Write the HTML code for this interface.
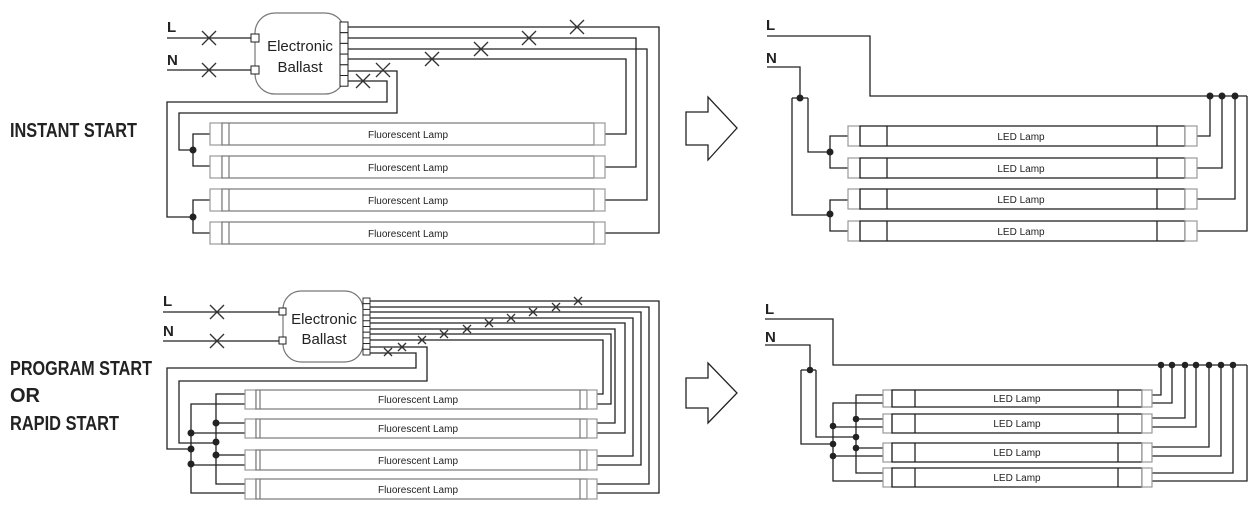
<!DOCTYPE html>
<html><head><meta charset="utf-8"><style>
html,body{margin:0;padding:0;background:#fff;width:1257px;height:510px;overflow:hidden}
svg{display:block}
.w{fill:none;stroke:#222;stroke-width:1.3}
.c{fill:#fff;stroke:#999;stroke-width:1.2}
.t{fill:#fff;stroke:#777;stroke-width:1.2}
.x{stroke:#333;stroke-width:1.3}
.lt{font-family:"Liberation Sans Narrow","Liberation Sans",sans-serif;font-size:10px;fill:#222;text-anchor:middle}
.hd{font-family:"Liberation Sans Narrow","Liberation Sans",sans-serif;font-weight:bold;font-size:20px;fill:#222}
.lb{font-family:"Liberation Sans",sans-serif;font-weight:bold;font-size:15px;fill:#222}
.bl{font-family:"Liberation Sans Narrow","Liberation Sans",sans-serif;font-size:15px;fill:#222;text-anchor:middle}
</style></head><body>
<svg width="1257" height="510" viewBox="0 0 1257 510" xmlns="http://www.w3.org/2000/svg">
<defs>
<g id="xm"><line class="x" x1="-7" y1="-7" x2="7" y2="7"/><line class="x" x1="-7" y1="7" x2="7" y2="-7"/></g>
<g id="xs"><line class="x" x1="-4" y1="-4" x2="4" y2="4"/><line class="x" x1="-4" y1="4" x2="4" y2="-4"/></g>
</defs>

<!-- headings -->
<text class="hd" x="10" y="137" textLength="127" lengthAdjust="spacingAndGlyphs">INSTANT START</text>
<text class="hd" x="10" y="375" textLength="142" lengthAdjust="spacingAndGlyphs">PROGRAM START</text>
<text class="hd" x="10" y="402">OR</text>
<text class="hd" x="10" y="430" textLength="109" lengthAdjust="spacingAndGlyphs">RAPID START</text>

<!-- arrows -->
<path class="w" d="M686,112 H708 V97 L737,128 L708,160 V145 H686 Z"/>
<path class="w" d="M686,378 H708 V363 L737,393 L708,423 V408 H686 Z"/>

<!-- ===== TOP LEFT ===== -->
<text class="lb" x="167" y="32">L</text>
<text class="lb" x="167" y="65">N</text>
<path class="w" d="M167,38 H253 M167,70 H253"/>
<use href="#xm" x="209" y="38"/><use href="#xm" x="209" y="70"/>
<rect x="255" y="13" width="90" height="81" rx="20" fill="#fff" stroke="#777" stroke-width="1.2"/>
<rect x="251" y="34" width="8" height="8" fill="#fff" stroke="#222"/>
<rect x="251" y="66" width="8" height="8" fill="#fff" stroke="#222"/>
<text class="bl" x="300" y="51">Electronic</text>
<text class="bl" x="300" y="72">Ballast</text>
<g fill="#fff" stroke="#222" stroke-width="1">
<rect x="340" y="22" width="8" height="10.7"/><rect x="340" y="32.7" width="8" height="10.7"/><rect x="340" y="43.4" width="8" height="10.7"/><rect x="340" y="54.1" width="8" height="10.7"/><rect x="340" y="64.8" width="8" height="10.7"/><rect x="340" y="75.5" width="8" height="10.7"/>
</g>
<path class="w" d="M348,27 H659 V233 H605 M348,38 H636 V167 H605 M348,49 H647 V200 H605 M348,59 H626 V134 H605"/>
<path class="w" d="M348,71 H397 V113 H179 V150 H193 M348,81 H387 V102 H167 V217 H193"/>
<path class="w" d="M210,134 H193 V166 H210 M210,200 H193 V233 H210"/>
<circle cx="193" cy="150" r="3.5" fill="#222"/><circle cx="193" cy="217" r="3.5" fill="#222"/>
<use href="#xm" x="577" y="27"/><use href="#xm" x="529" y="38"/><use href="#xm" x="481" y="49"/><use href="#xm" x="432" y="59"/><use href="#xm" x="383" y="70"/><use href="#xm" x="363" y="81"/>
<g>
<rect class="c" x="210" y="123" width="12" height="22"/><rect class="t" x="222" y="123" width="372" height="22"/><line class="t" x1="229" y1="123" x2="229" y2="145"/><rect class="c" x="594" y="123" width="11" height="22"/><text class="lt" x="408" y="138">Fluorescent Lamp</text>
<rect class="c" x="210" y="156" width="12" height="22"/><rect class="t" x="222" y="156" width="372" height="22"/><line class="t" x1="229" y1="156" x2="229" y2="178"/><rect class="c" x="594" y="156" width="11" height="22"/><text class="lt" x="408" y="171">Fluorescent Lamp</text>
<rect class="c" x="210" y="189" width="12" height="22"/><rect class="t" x="222" y="189" width="372" height="22"/><line class="t" x1="229" y1="189" x2="229" y2="211"/><rect class="c" x="594" y="189" width="11" height="22"/><text class="lt" x="408" y="204">Fluorescent Lamp</text>
<rect class="c" x="210" y="222" width="12" height="22"/><rect class="t" x="222" y="222" width="372" height="22"/><line class="t" x1="229" y1="222" x2="229" y2="244"/><rect class="c" x="594" y="222" width="11" height="22"/><text class="lt" x="408" y="237">Fluorescent Lamp</text>
</g>

<!-- ===== TOP RIGHT ===== -->
<text class="lb" x="766" y="30">L</text>
<text class="lb" x="766" y="63">N</text>
<path class="w" d="M767,36 H870 V96 H1247 M767,67 H800 V98 M792,98 H808 M792,98 V215 H830 M808,98 V152 H830"/>
<path class="w" d="M848,136 H830 V168 H848 M848,200 H830 V231 H848"/>
<path class="w" d="M1197,136 H1210 V96 M1197,168 H1222 V96 M1197,199 H1235 V96 M1197,231 H1247 V96"/>
<g fill="#222"><circle cx="800" cy="98" r="3.5"/><circle cx="830" cy="152" r="3.5"/><circle cx="830" cy="214" r="3.5"/><circle cx="1210" cy="96" r="3.5"/><circle cx="1222" cy="96" r="3.5"/><circle cx="1235" cy="96" r="3.5"/></g>
<g>
<rect class="c" x="848" y="126" width="12" height="20"/><rect class="w" x="860" y="126" width="325" height="20"/><path class="w" d="M887,126V146M1157,126V146"/><rect class="c" x="1185" y="126" width="12" height="20"/><text class="lt" x="1021" y="140">LED Lamp</text>
<rect class="c" x="848" y="158" width="12" height="20"/><rect class="w" x="860" y="158" width="325" height="20"/><path class="w" d="M887,158V178M1157,158V178"/><rect class="c" x="1185" y="158" width="12" height="20"/><text class="lt" x="1021" y="172">LED Lamp</text>
<rect class="c" x="848" y="189" width="12" height="20"/><rect class="w" x="860" y="189" width="325" height="20"/><path class="w" d="M887,189V209M1157,189V209"/><rect class="c" x="1185" y="189" width="12" height="20"/><text class="lt" x="1021" y="203">LED Lamp</text>
<rect class="c" x="848" y="221" width="12" height="20"/><rect class="w" x="860" y="221" width="325" height="20"/><path class="w" d="M887,221V241M1157,221V241"/><rect class="c" x="1185" y="221" width="12" height="20"/><text class="lt" x="1021" y="235">LED Lamp</text>
</g>

<!-- ===== BOTTOM LEFT ===== -->
<text class="lb" x="163" y="306">L</text>
<text class="lb" x="163" y="336">N</text>
<path class="w" d="M163,312 H281 M163,341 H281"/>
<use href="#xm" x="217" y="312"/><use href="#xm" x="217" y="341"/>
<rect x="283" y="291" width="80" height="71" rx="18" fill="#fff" stroke="#777" stroke-width="1.2"/>
<rect x="279" y="308" width="7" height="7" fill="#fff" stroke="#222"/>
<rect x="279" y="337" width="7" height="7" fill="#fff" stroke="#222"/>
<text class="bl" x="324" y="324">Electronic</text>
<text class="bl" x="324" y="344">Ballast</text>
<g fill="#fff" stroke="#222" stroke-width="0.9">
<rect x="363" y="298" width="7" height="5.7"/><rect x="363" y="303.7" width="7" height="5.7"/><rect x="363" y="309.4" width="7" height="5.7"/><rect x="363" y="315.1" width="7" height="5.7"/><rect x="363" y="320.8" width="7" height="5.7"/><rect x="363" y="326.5" width="7" height="5.7"/><rect x="363" y="332.2" width="7" height="5.7"/><rect x="363" y="337.9" width="7" height="5.7"/><rect x="363" y="343.6" width="7" height="5.7"/><rect x="363" y="349.3" width="7" height="5.7"/>
</g>
<path class="w" d="M370,301 H659 V493 H597 M370,307 H649 V484 H597 M370,312 H641 V465 H597 M370,318 H633 V456 H597 M370,323 H625 V433 H597 M370,329 H615 V423 H597 M370,334 H611 V404 H597 M370,340 H603 V394 H597"/>
<path class="w" d="M370,347 H427 V381 H179 V443 H216 M370,353 H416 V368 H167 V449 H191"/>
<path class="w" d="M245,394 H216 V484 H245 M216,423 H245 M216,455 H245 M245,404 H191 V493 H245 M191,433 H245 M191,465 H245"/>
<g fill="#222"><circle cx="191" cy="433" r="3.5"/><circle cx="191" cy="449" r="3.5"/><circle cx="191" cy="464" r="3.5"/><circle cx="216" cy="423" r="3.5"/><circle cx="216" cy="442" r="3.5"/><circle cx="216" cy="455" r="3.5"/></g>
<use href="#xs" x="578" y="301"/><use href="#xs" x="556" y="307"/><use href="#xs" x="533" y="312"/><use href="#xs" x="511" y="318"/><use href="#xs" x="489" y="323"/><use href="#xs" x="467" y="329"/><use href="#xs" x="444" y="334"/><use href="#xs" x="422" y="340"/><use href="#xs" x="402" y="347"/><use href="#xs" x="388" y="352"/>
<g>
<rect class="c" x="245" y="390" width="11" height="19"/><rect class="t" x="256" y="390" width="331" height="19"/><path class="t" d="M260,390V409M580,390V409"/><rect class="c" x="587" y="390" width="10" height="19"/><text class="lt" x="418" y="403">Fluorescent Lamp</text>
<rect class="c" x="245" y="419" width="11" height="19"/><rect class="t" x="256" y="419" width="331" height="19"/><path class="t" d="M260,419V438M580,419V438"/><rect class="c" x="587" y="419" width="10" height="19"/><text class="lt" x="418" y="432">Fluorescent Lamp</text>
<rect class="c" x="245" y="450" width="11" height="20"/><rect class="t" x="256" y="450" width="331" height="20"/><path class="t" d="M260,450V470M580,450V470"/><rect class="c" x="587" y="450" width="10" height="20"/><text class="lt" x="418" y="464">Fluorescent Lamp</text>
<rect class="c" x="245" y="479" width="11" height="20"/><rect class="t" x="256" y="479" width="331" height="20"/><path class="t" d="M260,479V499M580,479V499"/><rect class="c" x="587" y="479" width="10" height="20"/><text class="lt" x="418" y="493">Fluorescent Lamp</text>
</g>

<!-- ===== BOTTOM RIGHT ===== -->
<text class="lb" x="765" y="314">L</text>
<text class="lb" x="765" y="342">N</text>
<path class="w" d="M765,319 H833 V365 H1247 M765,345 H810 V370 M801,370 H816 M801,370 V444 H833 M816,370 V437 H856"/>
<path class="w" d="M883,395 H856 V473 H883 M856,419 H883 M856,448 H883 M883,403 H833 V481 H883 M833,427 H883 M833,456 H883"/>
<path class="w" d="M1152,395 H1161 V365 M1152,403 H1172 V365 M1152,418 H1185 V365 M1152,427 H1196 V365 M1152,447 H1209 V365 M1152,456 H1221 V365 M1152,473 H1233 V365 M1152,481 H1247 V365"/>
<g fill="#222"><circle cx="810" cy="370" r="3.3"/><circle cx="833" cy="426" r="3.3"/><circle cx="833" cy="444" r="3.3"/><circle cx="833" cy="456" r="3.3"/><circle cx="856" cy="419" r="3.3"/><circle cx="856" cy="437" r="3.3"/><circle cx="856" cy="448" r="3.3"/>
<circle cx="1161" cy="365" r="3.3"/><circle cx="1172" cy="365" r="3.3"/><circle cx="1185" cy="365" r="3.3"/><circle cx="1196" cy="365" r="3.3"/><circle cx="1209" cy="365" r="3.3"/><circle cx="1221" cy="365" r="3.3"/><circle cx="1233" cy="365" r="3.3"/></g>
<g>
<rect class="c" x="883" y="390" width="9" height="17"/><rect class="w" x="892" y="390" width="250" height="17"/><path class="w" d="M915,390V407M1118,390V407"/><rect class="c" x="1142" y="390" width="10" height="17"/><text class="lt" x="1017" y="402">LED Lamp</text>
<rect class="c" x="883" y="414" width="9" height="19"/><rect class="w" x="892" y="414" width="250" height="19"/><path class="w" d="M915,414V433M1118,414V433"/><rect class="c" x="1142" y="414" width="10" height="19"/><text class="lt" x="1017" y="427">LED Lamp</text>
<rect class="c" x="883" y="443" width="9" height="19"/><rect class="w" x="892" y="443" width="250" height="19"/><path class="w" d="M915,443V462M1118,443V462"/><rect class="c" x="1142" y="443" width="10" height="19"/><text class="lt" x="1017" y="456">LED Lamp</text>
<rect class="c" x="883" y="468" width="9" height="19"/><rect class="w" x="892" y="468" width="250" height="19"/><path class="w" d="M915,468V487M1118,468V487"/><rect class="c" x="1142" y="468" width="10" height="19"/><text class="lt" x="1017" y="481">LED Lamp</text>
</g>
</svg>
</body></html>
